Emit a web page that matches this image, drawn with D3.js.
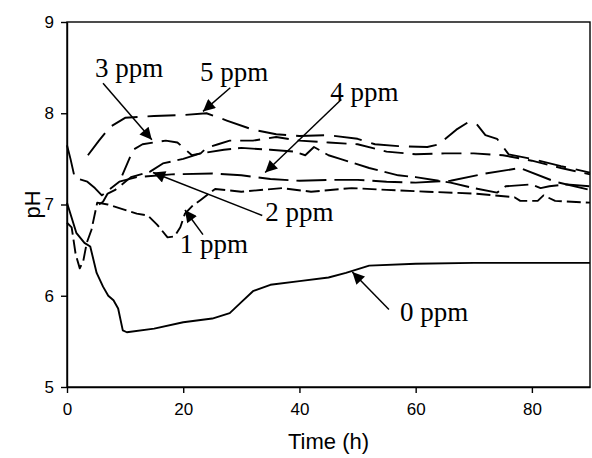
<!DOCTYPE html>
<html>
<head>
<meta charset="utf-8">
<script src="https://cdn.jsdelivr.net/npm/d3@7"></script>
<style>
  body { margin: 0; background: #fff; }
  svg { display: block; }
  .tick text { font-family: "Liberation Sans", Arial, sans-serif; font-size: 17px; fill: #000; }
  .tick line, .domain { stroke: #000; stroke-width: 1.4; }
  .lbl { font-family: "Liberation Serif", "Times New Roman", serif; font-size: 27px; fill: #000; }
  .ttl { font-family: "Liberation Sans", Arial, sans-serif; font-size: 22px; fill: #000; }
</style>
</head>
<body>
<svg width="592" height="458"></svg>
<script>
// time (h), pH
const ppm0 = [[0,7.02],[1.6,6.69],[3,6.58],[4,6.54],[5.1,6.25],[6.2,6.1],[7.1,6.0],[8,5.95],[8.8,5.86],[9.6,5.62],[10.3,5.6],[15,5.64],[20,5.71],[25,5.75],[28,5.81],[30,5.93],[32,6.05],[35,6.12],[40,6.16],[45,6.2],[48,6.25],[52,6.33],[60,6.35],[70,6.36],[80,6.36],[90,6.36]];
const ppm1 = [[0,6.8],[0.8,6.75],[1.5,6.45],[2.2,6.3],[2.8,6.38],[3.4,6.58],[4.2,6.72],[5.2,7.02],[7,7.0],[9,6.96],[12,6.9],[13.9,6.88],[15.5,6.78],[17.3,6.64],[18.5,6.65],[19.5,6.75],[20.3,6.9],[21.5,6.98],[23,7.05],[25.5,7.17],[30,7.14],[37,7.18],[42,7.14],[49,7.18],[55,7.16],[62,7.14],[70,7.12],[77,7.08],[78,7.04],[81,7.04],[82,7.1],[84,7.04],[90,7.02]];
const ppm2 = [[5.5,7.0],[6.2,7.03],[7,7.12],[8.3,7.16],[11,7.3],[14.3,7.36],[16.5,7.45],[20,7.5],[23,7.56],[27,7.6],[30,7.62],[35,7.6],[39,7.58],[41,7.54],[42.5,7.63],[45,7.54],[47,7.5],[52,7.4],[57,7.32],[60,7.3],[66,7.24],[70,7.18],[74,7.13],[75.5,7.2],[80,7.22],[81.5,7.18],[83,7.2],[86,7.22],[90,7.2]];
const ppm3 = [[9.5,7.32],[11.4,7.6],[13,7.66],[17,7.7],[19,7.68],[21.5,7.54],[23,7.56],[24,7.62],[26,7.66],[28,7.7],[32,7.7],[36,7.74],[40,7.7],[45,7.68],[50,7.66],[55,7.58],[60,7.55],[65,7.56],[70,7.56],[75,7.54],[80,7.48],[85,7.4],[90,7.33]];
const ppm4 = [[0,7.65],[0.6,7.5],[1.2,7.33],[2,7.28],[3.5,7.25],[4.8,7.18],[6,7.1],[9,7.25],[12,7.3],[18,7.33],[25,7.34],[30,7.32],[35,7.28],[40,7.26],[45,7.27],[50,7.27],[55,7.25],[60,7.24],[66,7.26],[72,7.34],[78,7.4],[84,7.25],[90,7.16]];
const ppm5 = [[3.6,7.54],[5.5,7.7],[7.4,7.85],[10,7.95],[15,7.97],[20,7.98],[24,8.0],[27.5,7.92],[32,7.82],[36,7.77],[40,7.75],[45,7.76],[50,7.72],[53,7.66],[57,7.64],[62,7.63],[64,7.66],[67,7.82],[69,7.9],[70.5,7.88],[72,7.76],[74,7.72],[76,7.55],[80,7.5],[85,7.42],[90,7.35]];

const xTicks = [0, 20, 40, 60, 80];
const yTicks = [5, 6, 7, 8, 9];

// label text, label anchor [t, pH], arrow tail, arrow tip
const notes = [
  ["3 ppm", [4.8, 8.40], [6.2, 8.33], [14.6, 7.71]],
  ["5 ppm", [22.9, 8.35], [28.1, 8.28], [23.4, 8.02]],
  ["4 ppm", [45.3, 8.13], [47.2, 8.15], [34.1, 7.35]],
  ["2 ppm", [34.1, 6.82], [33.6, 6.88], [14.8, 7.35]],
  ["1 ppm", [19.4, 6.47], [23.4, 6.67], [20.3, 6.94]],
  ["0 ppm", [57.3, 5.72], [55.4, 5.85], [49.1, 6.26]]
];

const w = 592, h = 458;
const m = { left: 67, right: 2, top: 22, bottom: 71 };

const svg = d3.select("svg");

const x = d3.scaleLinear().domain([0, 90]).range([m.left, w - m.right]);
const y = d3.scaleLinear().domain([5, 9]).range([h - m.bottom, m.top]);

// frame
svg.append("rect")
  .attr("x", m.left).attr("y", m.top)
  .attr("width", w - m.right - m.left).attr("height", h - m.bottom - m.top)
  .attr("fill", "none").attr("stroke", "#000").attr("stroke-width", 1.4);

svg.append("g")
  .attr("transform", `translate(0,${h - m.bottom})`)
  .call(d3.axisBottom(x).tickValues(xTicks).tickSize(6).tickSizeOuter(0).tickPadding(10));

svg.append("g")
  .attr("transform", `translate(${m.left},0)`)
  .call(d3.axisLeft(y).tickValues(yTicks).tickFormat(d3.format("d")).tickSize(6).tickSizeOuter(0).tickPadding(7));

svg.append("text").attr("class", "ttl")
  .attr("x", (m.left + w - m.right) / 2).attr("y", 449)
  .attr("text-anchor", "middle").text("Time (h)");

svg.append("text").attr("class", "ttl")
  .attr("transform", `translate(40,${(m.top + h - m.bottom) / 2}) rotate(-90)`)
  .attr("text-anchor", "middle").text("pH");

const line = d3.line().x(d => x(d[0])).y(d => y(d[1]));

const series = [
  [ppm0, null],
  [ppm1, "14,5"],
  [ppm2, "24,7"],
  [ppm3, "20,9"],
  [ppm4, "30,8"],
  [ppm5, "28,10"]
];

svg.append("g").selectAll("path")
  .data(series)
  .join("path")
  .attr("d", d => line(d[0]))
  .attr("fill", "none")
  .attr("stroke", "#000")
  .attr("stroke-width", 1.9)
  .attr("stroke-linejoin", "round")
  .attr("stroke-dasharray", d => d[1]);

// arrows
svg.append("defs").append("marker")
  .attr("id", "head")
  .attr("viewBox", "0 0 10 10")
  .attr("refX", 10).attr("refY", 5)
  .attr("markerWidth", 14).attr("markerHeight", 12)
  .attr("markerUnits", "userSpaceOnUse")
  .attr("orient", "auto")
  .append("path").attr("d", "M0,0L10,5L0,10z").attr("fill", "#000");

const ann = svg.append("g");
ann.selectAll("line")
  .data(notes)
  .join("line")
  .attr("x1", d => x(d[2][0])).attr("y1", d => y(d[2][1]))
  .attr("x2", d => x(d[3][0])).attr("y2", d => y(d[3][1]))
  .attr("stroke", "#000").attr("stroke-width", 1.5)
  .attr("marker-end", "url(#head)");

ann.selectAll("text")
  .data(notes)
  .join("text")
  .attr("class", "lbl")
  .attr("x", d => x(d[1][0])).attr("y", d => y(d[1][1]))
  .text(d => d[0]);
</script>
</body>
</html>
